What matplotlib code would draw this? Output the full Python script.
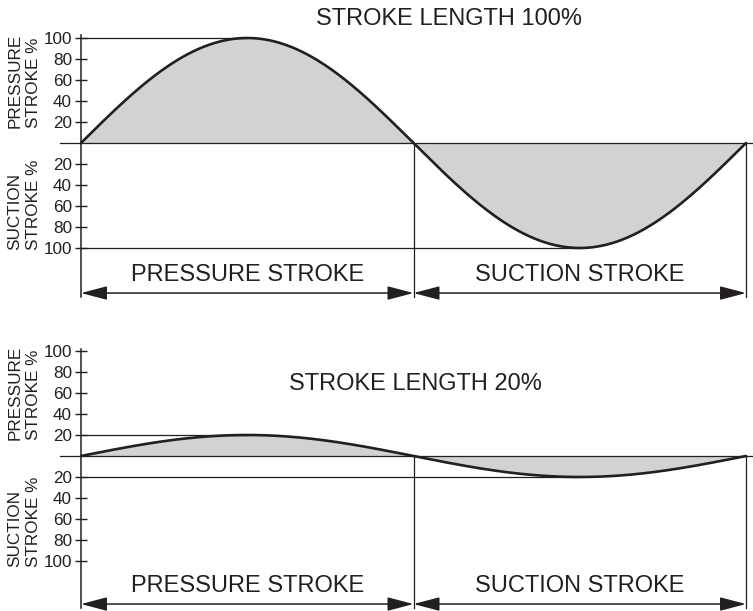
import numpy as np
import matplotlib
matplotlib.use("Agg")
import matplotlib.pyplot as plt

plt.rcParams['font.family'] = ['Liberation Sans', 'DejaVu Sans']

# ---- data ----
stroke_lengths = [100, 20]                 # amplitude of each panel (%)
titles = ["STROKE LENGTH 100%", "STROKE LENGTH 20%"]
tick_values = [100, 80, 60, 40, 20, -20, -40, -60, -80, -100]
tick_labels = ["100", "80", "60", "40", "20", "20", "40", "60", "80", "100"]
phase_labels = ["PRESSURE STROKE", "SUCTION STROKE"]
phase_bounds = [0, 180, 360]               # crank angle (deg)
angle = np.linspace(0, 360, 721)

INK = "#231f20"
FILL = "#d1d2d4"

W, H = 753, 611
fig = plt.figure(figsize=(W / 100, H / 100), dpi=100)

# panel layouts in pixels: (top_px, bottom_px, zero_px)
panels = [(0, 305, 143), (305, 611, 456)]
px_per_unit_y = 1.05
x0_px, x1_px = 81, 746
px_per_deg = (x1_px - x0_px) / 360.0

title_pos = [(199, 118), (181, 68.6)]
spine_bounds = [(-146.7, 102.9), (-144.8, 101.5)]
vline_bottom = [-146.7, -144.8]
arrow_y = [-142.9, -141.0]
label_y = [-125.7, -123.8]
ylab_press_bottom = [(128 - 143), (440 - 456)]
ylab_suct_bottom = [(250 - 143), (567 - 456)]

for i, amp in enumerate(stroke_lengths):
    top_px, bot_px, zero_px = panels[i]
    ax = fig.add_axes([0, 1 - bot_px / H, 1, (bot_px - top_px) / H])
    ax.set_xlim(-x0_px / px_per_deg, (W - x0_px) / px_per_deg)
    ax.set_ylim(-(bot_px - zero_px) / px_per_unit_y, (zero_px - top_px) / px_per_unit_y)
    ax.patch.set_alpha(0)
    for s in ['top', 'right', 'bottom']:
        ax.spines[s].set_visible(False)
    ax.spines['left'].set_position(('data', 0))
    ax.spines['left'].set_bounds(*spine_bounds[i])
    ax.spines['left'].set_color(INK)
    ax.spines['left'].set_linewidth(1.1)
    ax.set_xticks([])
    ax.set_yticks(tick_values)
    ax.set_yticklabels(tick_labels)
    ax.tick_params(axis='y', direction='inout', length=8, width=1.0,
                   colors=INK, labelsize=12.3, pad=2.5)

    y = amp * np.sin(np.radians(angle))
    ax.fill_between(angle, 0, y, color=FILL, lw=0, zorder=1)
    # zero line
    ax.plot([-11.4, 363.3], [0, 0], color=INK, lw=0.9, zorder=2)
    # reference lines at peak / trough
    ax.plot([0, 90], [amp, amp], color=INK, lw=0.9, zorder=2)
    ax.plot([0, 270], [-amp, -amp], color=INK, lw=0.9, zorder=2)
    # curve
    ax.plot(angle, y, color=INK, lw=1.9, zorder=3, solid_capstyle='round')
    # vertical boundaries
    for xb in phase_bounds[1:]:
        ax.plot([xb, xb], [0, vline_bottom[i]], color=INK, lw=0.9, zorder=2)
    # arrows and stroke labels
    for k in range(2):
        a, b = phase_bounds[k], phase_bounds[k + 1]
        ax.annotate('', xy=(b, arrow_y[i]), xytext=(a, arrow_y[i]),
                    arrowprops=dict(arrowstyle='<|-|>,head_length=1.6,head_width=0.42',
                                    color=INK, lw=1.1, shrinkA=0, shrinkB=0))
        ax.text((a + b) / 2, label_y[i], phase_labels[k], fontsize=17,
                ha='center', va='center', color=INK)
    ax.text(title_pos[i][0], title_pos[i][1], titles[i], fontsize=17,
            ha='center', va='center', color=INK)
    # y axis captions (rotated)
    xcap = (24 - x0_px) / px_per_deg
    ax.text(xcap, -ylab_press_bottom[i] / px_per_unit_y, "PRESSURE\nSTROKE %",
            rotation=90, fontsize=12.3, ha='center', va='bottom',
            multialignment='left', color=INK, linespacing=1.3)
    ax.text(xcap, -ylab_suct_bottom[i] / px_per_unit_y, "SUCTION\nSTROKE %",
            rotation=90, fontsize=12.3, ha='center', va='bottom',
            multialignment='left', color=INK, linespacing=1.3)

fig.savefig("out.png", dpi=100)
